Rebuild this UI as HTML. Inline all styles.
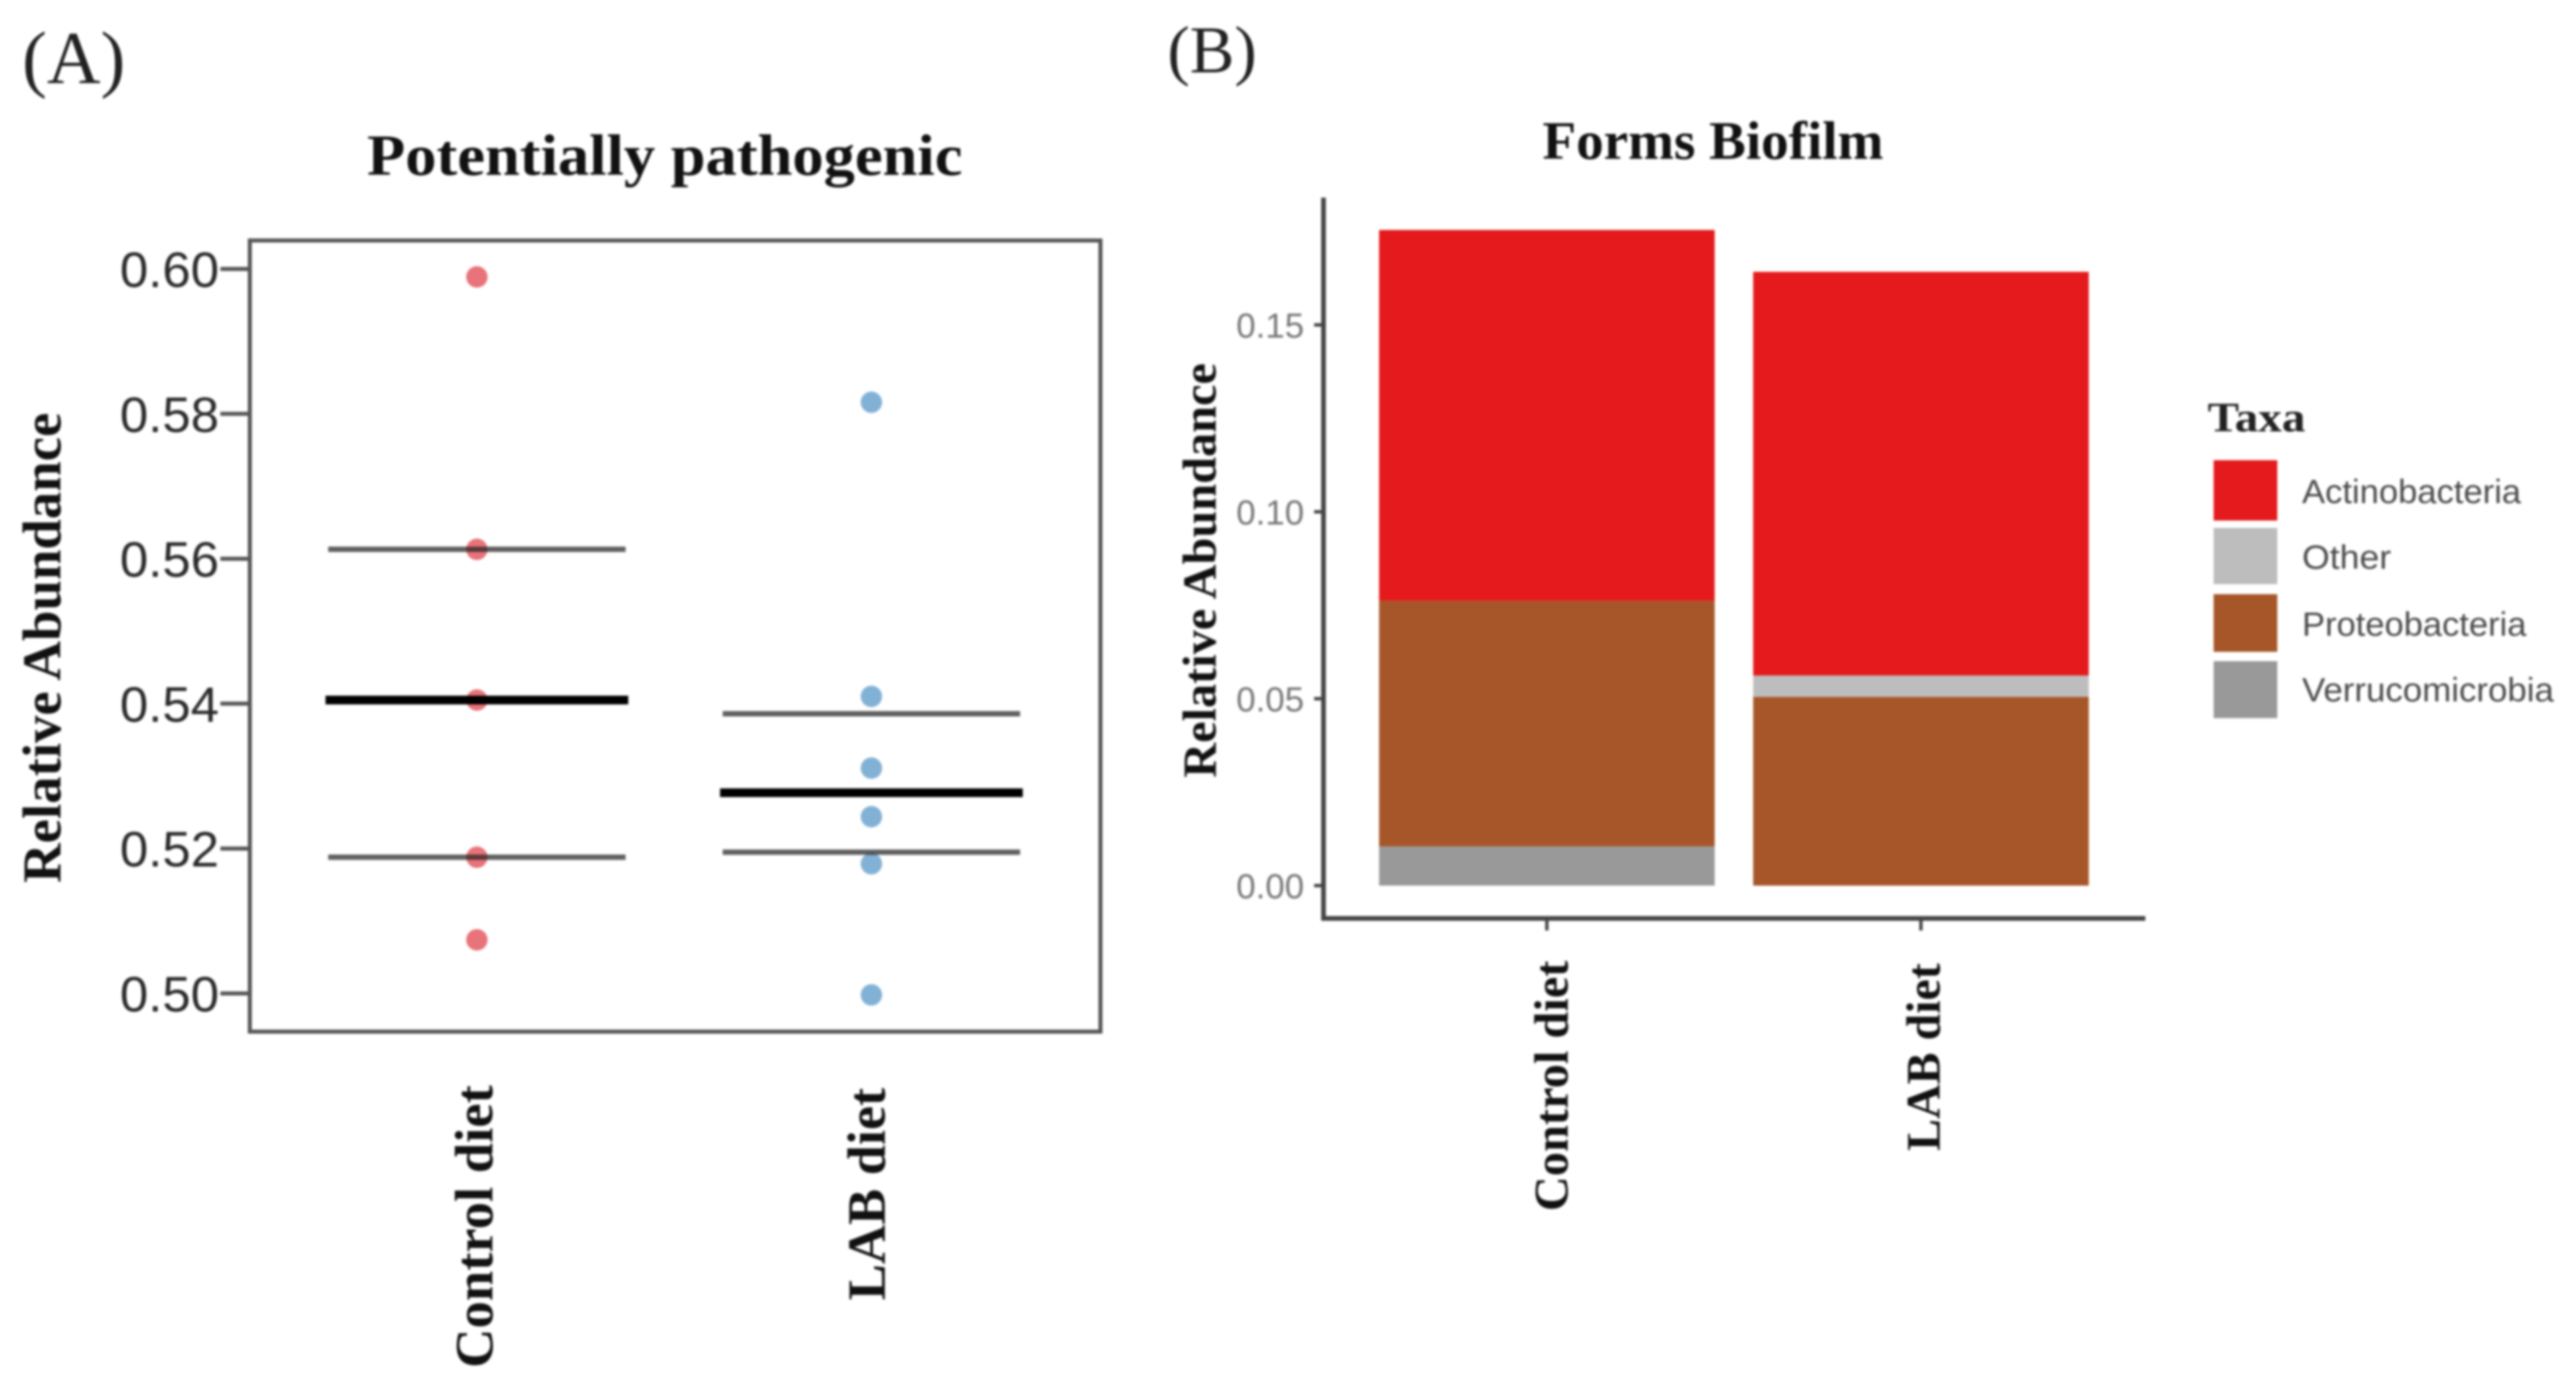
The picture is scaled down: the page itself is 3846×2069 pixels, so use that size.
<!DOCTYPE html>
<html>
<head>
<meta charset="utf-8">
<title>Potentially pathogenic and Forms Biofilm</title>
<style>
html,body{margin:0;padding:0;background:#fff;width:3846px;height:2069px;overflow:hidden}
svg{display:block;filter:blur(1.8px)}
.serif{font-family:"Liberation Serif",serif}
.sans{font-family:"Liberation Sans",sans-serif}
</style>
</head>
<body>
<svg id="fig" xmlns="http://www.w3.org/2000/svg" width="3846" height="2069" viewBox="0 0 3846 2069">
  <rect x="0" y="0" width="3846" height="2069" fill="#fff"/>
  <text class="serif" x="33" y="124" font-size="111" fill="#222">(A)</text>
  <text class="serif" x="1743" y="108" font-size="100" fill="#222">(B)</text>
  <text class="serif" x="548" y="261" font-size="87" font-weight="bold" fill="#111" textLength="889" lengthAdjust="spacingAndGlyphs">Potentially pathogenic</text>
  <text class="serif" x="2303" y="237" font-size="80" font-weight="bold" fill="#111" textLength="509" lengthAdjust="spacingAndGlyphs">Forms Biofilm</text>
  <text class="serif" transform="translate(90,1318) rotate(-90)" font-size="82" font-weight="bold" fill="#111" textLength="702" lengthAdjust="spacingAndGlyphs">Relative Abundance</text>
  <text class="serif" transform="translate(1815,1161) rotate(-90)" font-size="71" font-weight="bold" fill="#111" textLength="619" lengthAdjust="spacingAndGlyphs">Relative Abundance</text>
  <g id="panelA"></g>
  <g id="panelB"></g>
  <g id="legend">
    <text class="serif" x="3296" y="644" font-size="62" font-weight="bold" fill="#222" textLength="146" lengthAdjust="spacingAndGlyphs">Taxa</text>
    <rect x="3305" y="687" width="95" height="90" fill="#e41a1c"/>
    <text class="sans" x="3437" y="751" font-size="50" fill="#4a4a4a" textLength="327" lengthAdjust="spacingAndGlyphs">Actinobacteria</text>
    <rect x="3305" y="788" width="95" height="84" fill="#bdbdbd"/>
    <text class="sans" x="3437" y="849" font-size="50" fill="#4a4a4a" textLength="133" lengthAdjust="spacingAndGlyphs">Other</text>
    <rect x="3305" y="887" width="95" height="86" fill="#a65628"/>
    <text class="sans" x="3437" y="949" font-size="50" fill="#4a4a4a" textLength="335" lengthAdjust="spacingAndGlyphs">Proteobacteria</text>
    <rect x="3305" y="987" width="95" height="85" fill="#999999"/>
    <text class="sans" x="3437" y="1047" font-size="50" fill="#4a4a4a" textLength="376" lengthAdjust="spacingAndGlyphs">Verrucomicrobia</text>
  </g>
</svg>
<script>
// Panel A data
const categoriesA = ['Control diet', 'LAB diet'];
const tickLabelsA = ['0.50', '0.52', '0.54', '0.56', '0.58', '0.60'];
const pointsControl = [0.5989, 0.5613, 0.5405, 0.5188, 0.5074];
const pointsLab = [0.5816, 0.5410, 0.5311, 0.5244, 0.5179, 0.4998];
const meanValues = [0.5405, 0.5277];
const upperValues = [0.5613, 0.5386];
const lowerValues = [0.5188, 0.5195];
// Panel B data
const categoriesB = ['Control diet', 'LAB diet'];
const tickLabelsB = ['0.00', '0.05', '0.10', '0.15'];
const taxa = ['Verrucomicrobia', 'Proteobacteria', 'Other', 'Actinobacteria'];
const verrucomicrobia = [0.0105, 0];
const proteobacteria = [0.0657, 0.0505];
const other = [0, 0.0057];
const actinobacteria = [0.0992, 0.1080];

const NS = 'http://www.w3.org/2000/svg';
function mk(parent, tag, attrs, text) {
  const el = document.createElementNS(NS, tag);
  for (const k in attrs) el.setAttribute(k, attrs[k]);
  if (text !== undefined) el.textContent = text;
  parent.appendChild(el);
  return el;
}
function slug(s) { return s.toLowerCase().replace(/\s+/g, '-'); }

/* ---------- Panel A ---------- */
const gA = document.getElementById('panelA');
const yA = v => 1483 - (v - 0.5) * 10815;
const xA = i => 712 + 589 * i;
const HALF_A = 222;
const mapsA = [pointsControl, pointsLab];
const dotColors = ['#e8737a', '#82b1d6'];

mapsA.forEach((series, i) => {
  series.forEach((v, j) => {
    const dot = mk(gA, 'ellipse', { cx: xA(i), cy: yA(v), rx: 16, ry: 16, fill: dotColors[i] });
    
    
  });
});
categoriesA.forEach((c, i) => {
  const up = mk(gA, 'line', { x1: xA(i) - HALF_A, x2: xA(i) + HALF_A, y1: yA(upperValues[i]), y2: yA(upperValues[i]), stroke: '#222', 'stroke-opacity': 0.72, 'stroke-width': 8 });
  
  
  const lo = mk(gA, 'line', { x1: xA(i) - HALF_A, x2: xA(i) + HALF_A, y1: yA(lowerValues[i]), y2: yA(lowerValues[i]), stroke: '#222', 'stroke-opacity': 0.72, 'stroke-width': 8 });
  
  
  const me = mk(gA, 'line', { x1: xA(i) - HALF_A - 4, x2: xA(i) + HALF_A + 4, y1: yA(meanValues[i]), y2: yA(meanValues[i]), stroke: '#000', 'stroke-width': 13 });
  
  
  const lab = mk(gA, 'text', { class: 'serif', 'font-size': 80, 'font-weight': 'bold', fill: '#111', transform: 'translate(' + (xA(i) + (i === 0 ? 23 : 20)) + ',' + (i === 0 ? 2042 : 1941) + ') rotate(-90)', textLength: i === 0 ? 422 : 317, lengthAdjust: 'spacingAndGlyphs' }, c);
  
  
});
tickLabelsA.forEach(t => {
  const v = parseFloat(t);
  const tick = mk(gA, 'line', { x1: 329, x2: 373, y1: yA(v), y2: yA(v), stroke: '#555', 'stroke-width': 6 });
  
  
  const lab = mk(gA, 'text', { class: 'sans', x: 327, y: yA(v) + 27, 'font-size': 74, 'text-anchor': 'end', fill: '#2a2a2a', textLength: 148, lengthAdjust: 'spacingAndGlyphs' }, t);
  
  
});
const frame = mk(gA, 'rect', { x: 373, y: 359, width: 1270, height: 1181, fill: 'none', stroke: '#555', 'stroke-width': 6 });



/* ---------- Panel B ---------- */
const gB = document.getElementById('panelB');
const yB = v => 1322 - v * 5580;
const xB = i => 2309.5 + 558.5 * i;
const BAR_HALF = 250.5;
const seriesB = [verrucomicrobia, proteobacteria, other, actinobacteria];
const taxaColors = ['#999999', '#a65628', '#bdbdbd', '#e41a1c'];

categoriesB.forEach((c, i) => {
  let base = 0;
  seriesB.forEach((vals, s) => {
    const v = vals[i];
    if (v > 0) {
      const seg = mk(gB, 'rect', { x: xB(i) - BAR_HALF, y: yB(base + v), width: BAR_HALF * 2, height: yB(base) - yB(base + v), fill: taxaColors[s] });
      
      
    }
    base += v;
  });
  const tick = mk(gB, 'line', { x1: xB(i), x2: xB(i), y1: 1371, y2: 1389, stroke: '#444', 'stroke-width': 5 });
  
  
  const lab = mk(gB, 'text', { class: 'serif', 'font-size': 72, 'font-weight': 'bold', fill: '#111', transform: 'translate(' + (xB(i) + (i === 0 ? 31 : 28)) + ',' + (i === 0 ? 1808 : 1718) + ') rotate(-90)', textLength: i === 0 ? 374 : 280, lengthAdjust: 'spacingAndGlyphs' }, c);
  
  
});
tickLabelsB.forEach(t => {
  const v = parseFloat(t);
  const tick = mk(gB, 'line', { x1: 1962, x2: 1976, y1: yB(v), y2: yB(v), stroke: '#444', 'stroke-width': 5 });
  
  
  const lab = mk(gB, 'text', { class: 'sans', x: 1947, y: yB(v) + 19, 'font-size': 52, 'text-anchor': 'end', fill: '#777' }, t);
  
  
});
const axisY = mk(gB, 'line', { x1: 1976, x2: 1976, y1: 295, y2: 1374, stroke: '#444', 'stroke-width': 7 });


const axisX = mk(gB, 'line', { x1: 1973, x2: 3203, y1: 1371, y2: 1371, stroke: '#444', 'stroke-width': 7 });


</script>
</body>
</html>
